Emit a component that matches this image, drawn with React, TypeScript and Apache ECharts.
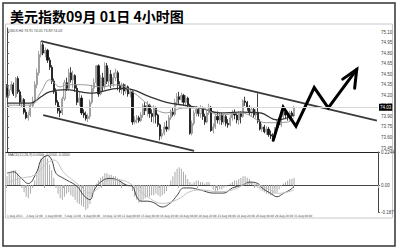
import { useEffect, useRef } from 'react';
import * as echarts from 'echarts';

// 4-hour USD index candles: [open, close, low, high]
const candles: number[][] = [
  [74.30, 74.20, 74.17, 74.36], [74.20, 74.28, 74.16, 74.33], [74.28, 74.35, 74.25, 74.40], [74.35, 74.22, 74.19, 74.38],
  [74.18, 74.44, 74.16, 74.46], [74.44, 74.25, 74.22, 74.47], [74.25, 74.10, 74.05, 74.28], [74.10, 74.14, 74.03, 74.20],
  [74.14, 73.96, 73.93, 74.16], [73.96, 73.88, 73.86, 74.00], [73.88, 73.92, 73.84, 73.97], [73.92, 74.05, 73.89, 74.08],
  [74.05, 74.12, 74.02, 74.18], [74.12, 74.35, 74.10, 74.40], [74.35, 74.52, 74.30, 74.58], [74.52, 74.78, 74.48, 74.83],
  [74.78, 74.92, 74.74, 74.97], [74.92, 74.80, 74.77, 74.95], [74.80, 74.84, 74.74, 74.88], [74.84, 74.70, 74.66, 74.86],
  [74.70, 74.60, 74.56, 74.74], [74.60, 74.40, 74.36, 74.63], [74.40, 74.25, 74.22, 74.44], [74.25, 74.10, 74.06, 74.30],
  [74.10, 73.98, 73.94, 74.13], [73.98, 73.95, 73.89, 74.05], [73.95, 74.15, 73.92, 74.18], [74.15, 74.38, 74.12, 74.42],
  [74.38, 74.30, 74.26, 74.45], [74.30, 74.52, 74.27, 74.58], [74.52, 74.42, 74.38, 74.60], [74.42, 74.48, 74.30, 74.55],
  [74.48, 74.30, 74.25, 74.50], [74.30, 74.10, 74.06, 74.35], [74.10, 74.16, 74.05, 74.25], [74.16, 73.95, 73.92, 74.20],
  [73.95, 73.92, 73.88, 74.00], [73.92, 73.87, 73.84, 73.97], [73.87, 73.90, 73.82, 73.94], [73.90, 74.10, 73.86, 74.14],
  [74.10, 74.30, 74.07, 74.35], [74.30, 74.38, 74.25, 74.44], [74.38, 74.62, 74.34, 74.63], [74.62, 74.22, 74.18, 74.64],
  [74.22, 74.45, 74.20, 74.49], [74.45, 74.32, 74.25, 74.52], [74.32, 74.62, 74.28, 74.67], [74.62, 74.40, 74.36, 74.66],
  [74.40, 74.50, 74.33, 74.59], [74.50, 74.36, 74.30, 74.56], [74.36, 74.45, 74.32, 74.52], [74.45, 74.52, 74.40, 74.58],
  [74.52, 74.34, 74.27, 74.55], [74.34, 74.28, 74.24, 74.40], [74.28, 74.35, 74.22, 74.38], [74.35, 74.26, 74.20, 74.37],
  [74.26, 74.32, 74.22, 74.36], [74.32, 74.22, 74.18, 74.34], [74.22, 74.25, 74.17, 74.30], [74.25, 73.82, 73.78, 74.27],
  [73.82, 73.85, 73.79, 73.90], [73.85, 73.88, 73.80, 73.92], [73.88, 73.84, 73.81, 73.91], [73.84, 73.92, 73.82, 73.96],
  [73.92, 74.05, 73.88, 74.08], [74.05, 73.98, 73.92, 74.10], [73.98, 74.06, 73.90, 74.12], [74.06, 73.94, 73.88, 74.08],
  [73.94, 73.90, 73.82, 74.00], [73.90, 74.02, 73.80, 74.06], [74.02, 73.92, 73.80, 74.04], [73.92, 73.78, 73.75, 73.94],
  [73.78, 73.62, 73.56, 73.80], [73.62, 73.66, 73.58, 73.72], [73.66, 73.75, 73.63, 73.82], [73.75, 73.72, 73.68, 73.84],
  [73.72, 73.88, 73.70, 73.92], [73.88, 73.96, 73.85, 74.00], [73.96, 73.93, 73.90, 74.02], [73.93, 74.10, 73.90, 74.15],
  [74.10, 74.18, 74.05, 74.23], [74.18, 74.14, 74.08, 74.25], [74.14, 74.20, 74.10, 74.24], [74.20, 74.10, 74.05, 74.22],
  [74.10, 74.16, 74.04, 74.20], [74.16, 74.06, 74.02, 74.18], [74.06, 73.66, 73.64, 74.08], [73.66, 73.80, 73.63, 73.84],
  [73.80, 73.95, 73.77, 73.99], [73.95, 74.00, 73.90, 74.05], [74.00, 73.94, 73.90, 74.03], [73.94, 74.02, 73.88, 74.06],
  [74.02, 73.90, 73.85, 74.04], [73.90, 73.82, 73.78, 73.94], [73.82, 73.95, 73.80, 73.98], [73.95, 74.03, 73.92, 74.08],
  [74.03, 73.70, 73.68, 74.05], [73.70, 73.75, 73.66, 73.80], [73.75, 73.90, 73.72, 73.94], [73.90, 73.85, 73.80, 73.97],
  [73.85, 73.92, 73.78, 73.96], [73.92, 73.82, 73.78, 73.95], [73.82, 73.90, 73.79, 73.93], [73.90, 73.80, 73.76, 73.92],
  [73.80, 73.78, 73.74, 73.86], [73.78, 73.88, 73.76, 73.92], [73.88, 73.96, 73.84, 73.99], [73.96, 73.92, 73.86, 74.00],
  [73.92, 73.85, 73.80, 73.95], [73.85, 73.94, 73.78, 73.98], [73.94, 73.90, 73.80, 73.97], [73.90, 74.12, 73.88, 74.14],
  [74.12, 74.10, 74.05, 74.18], [74.10, 74.03, 73.98, 74.12], [74.03, 73.95, 73.92, 74.06], [73.95, 74.00, 73.90, 74.04],
  [74.00, 73.92, 73.88, 74.02], [73.92, 73.96, 73.88, 74.00], [73.96, 73.83, 73.80, 74.23], [73.83, 73.72, 73.70, 73.86],
  [73.72, 73.75, 73.68, 73.80], [73.75, 73.68, 73.66, 73.78], [73.68, 73.72, 73.64, 73.76], [73.72, 73.64, 73.61, 73.75],
  [73.64, 73.62, 73.58, 73.70], [73.62, 73.60, 73.56, 73.66], [73.60, 73.72, 73.57, 73.75], [73.72, 73.82, 73.68, 73.86],
  [73.82, 73.78, 73.74, 73.88], [73.78, 73.90, 73.75, 73.93], [73.90, 73.96, 73.86, 74.00], [73.96, 73.92, 73.86, 73.99],
  [73.92, 73.88, 73.84, 73.96], [73.88, 73.95, 73.83, 73.98], [73.95, 73.91, 73.86, 73.98], [73.91, 74.03, 73.89, 74.05],
];

// MACD histogram, one bar per candle
const macdHistogram = [
  0.06, 0.08, 0.09, 0.10, 0.10, 0.08, 0.05,
  -0.02, -0.05, -0.08, -0.09, -0.06,
  -0.02, 0.03, 0.08, 0.13, 0.18, 0.21, 0.20, 0.18, 0.14, 0.10, 0.05,
  -0.02, -0.06, -0.09, -0.10, -0.08, -0.06, -0.05, -0.07, -0.08, -0.10, -0.12, -0.13, -0.14, -0.15,
  -0.17, -0.16, -0.13, -0.08, -0.03, 0.01,
  0.03, 0.05, 0.06, 0.08, 0.08, 0.07, 0.07, 0.06, 0.06, 0.05, 0.04,
  0.02, 0.01, 0.00, -0.01, -0.01, -0.04,
  -0.08, -0.10, -0.12, -0.11, -0.10,
  -0.09, -0.08, -0.08, -0.07, -0.07, -0.06, -0.07, -0.08, -0.07, -0.06, -0.04,
  -0.01, 0.03, 0.06, 0.09, 0.11, 0.12, 0.11, 0.09, 0.07,
  0.04, 0.02, 0.01, 0.02, 0.03, 0.03, 0.02,
  0.02, 0.01, 0.02, 0.02, -0.01, -0.03,
  -0.04, -0.04, -0.03, -0.03, -0.02, -0.01, 0.00,
  0.01, 0.02, 0.03, 0.03, 0.04, 0.05, 0.06, 0.06, 0.05, 0.04, 0.02,
  0.00, -0.01, -0.02, -0.03, -0.04, -0.05, -0.06, -0.06, -0.07, -0.07, -0.06, -0.05, -0.03, -0.01,
  0.01, 0.02, 0.03, 0.04, 0.04, 0.05,
];

// Moving averages as [candle index, value]
const maSlow = [
  [0, 74.09], [11, 74.09], [16, 74.18], [20, 74.25], [28, 74.28], [39, 74.23], [44, 74.25], [52, 74.30],
  [59, 74.28], [67, 74.18], [75, 74.10], [83, 74.06], [91, 74.02], [100, 73.95], [110, 73.96], [119, 73.95],
  [127, 73.85], [135, 73.92],
];
const maFast = [
  [0, 74.06], [11, 74.06], [16, 74.25], [20, 74.42], [25, 74.32], [28, 74.35], [36, 74.35], [44, 74.32],
  [52, 74.35], [59, 74.25], [67, 74.06], [75, 73.95], [83, 74.02], [91, 74.02], [100, 73.92], [110, 73.95],
  [122, 73.81], [132, 73.82], [135, 73.88],
];

// MACD main and signal lines as [candle index, value]
const macdMain = [
  [0, 0.08], [3, 0.09], [6, 0.056], [10, 0.01], [14, 0.09], [16, 0.17], [19, 0.20], [21, 0.17], [23, 0.08],
  [26, 0.05], [28, 0.034], [33, -0.01], [36, -0.07], [39, -0.10], [41, -0.034], [44, 0.02], [48, 0.045],
  [52, 0.034], [56, 0.0], [59, -0.01], [61, -0.08], [63, -0.11], [66, -0.11], [69, -0.12], [73, -0.15],
  [77, -0.12], [80, -0.07], [83, -0.02], [86, -0.02], [91, -0.034], [97, -0.055], [102, -0.055], [106, -0.02],
  [111, 0.0], [114, 0.02], [118, 0.01], [120, -0.02], [124, -0.057], [127, -0.08], [130, -0.057], [133, -0.034],
  [135, -0.01],
];
const macdSignal = [
  [0, 0.015], [6, 0.045], [13, 0.068], [19, 0.15], [22, 0.17], [27, 0.08], [33, 0.01], [39, -0.055],
  [44, -0.01], [48, 0.034], [53, 0.034], [59, 0.0], [66, -0.08], [73, -0.125], [80, -0.10], [86, -0.045],
  [91, -0.034], [99, -0.045], [106, -0.034], [114, 0.01], [122, -0.02], [128, -0.057], [135, -0.034],
];

// Trend channel and projected path, [slot, price]
const upperChannel = [[16, 74.97], [174, 73.84]];
const lowerChannel = [[17, 73.92], [88, 73.41]];
const projectedPath = [[125.2, 73.56], [129.9, 74.03], [135.9, 73.76], [144.5, 74.31], [151.1, 74.02], [164.5, 74.57]];
const projectedHead = [[157.9, 74.43], [164.5, 74.57], [163.5, 74.3]];

// Time axis labels, one every 9 candles
const tickLabels = [
  '1 Aug 2011', '2 Aug 12:00', '4 Aug 00:00', '5 Aug 12:00', '9 Aug 00:00', '10 Aug 12:00', '12 Aug 00:00',
  '15 Aug 08:00', '16 Aug 20:00', '18 Aug 08:00', '19 Aug 20:00', '23 Aug 08:00', '24 Aug 20:00',
  '26 Aug 08:00', '29 Aug 20:00', '31 Aug 08:00',
];
const tickStep = 9;
const priceTicks = [73.45, 73.6, 73.75, 73.9, 74.05, 74.2, 74.35, 74.5, 74.65, 74.8, 74.95, 75.1];
const macdTicks = [-0.187, 0, 0.2244];
const slotCount = 175;

export default function App() {
  const ref = useRef<HTMLDivElement>(null);

  useEffect(() => {
    const chart = echarts.init(ref.current!, null, { renderer: 'svg' });
    const slots = Array.from({ length: slotCount }, (_, i) => String(i));
    const labelAt = (i: number) => (i % tickStep === 0 ? tickLabels[i / tickStep] : undefined);
    const last = candles[candles.length - 1];
    const lastClose = last[1];
    const fontFamily = 'Arial, "Liberation Sans", sans-serif';
    const narrowFont = '"Liberation Sans Narrow", "DejaVu Sans Condensed", Arial, sans-serif';

    chart.setOption({
      animation: false,
      backgroundColor: '#fff',
      grid: [
        { left: 6, top: 28, width: 372, height: 124 },
        { left: 6, top: 152, width: 372, height: 60.5 },
      ],
      xAxis: [
        {
          type: 'category', gridIndex: 0, data: slots, boundaryGap: true,
          axisLine: { show: true, lineStyle: { color: '#222', width: 1.2 } },
          axisTick: { show: false }, axisLabel: { show: false }, splitLine: { show: false },
        },
        {
          type: 'category', gridIndex: 1, data: slots, boundaryGap: true,
          axisLine: { show: true, lineStyle: { color: '#444', width: 1 } },
          axisTick: { show: true, length: 3, interval: (i: number) => labelAt(i) !== undefined, lineStyle: { color: '#aaa' } },
          axisLabel: {
            show: true, interval: (i: number) => labelAt(i) !== undefined,
            formatter: (_v: string, i: number) => labelAt(i) ?? '',
            fontSize: 3, color: '#444', align: 'left', margin: 2, fontFamily: narrowFont,
          },
          splitLine: { show: false },
        },
        { type: 'value', gridIndex: 0, min: -0.5, max: slotCount - 0.5, show: false },
      ],
      yAxis: [
        {
          type: 'value', gridIndex: 0, position: 'right', min: 73.394, max: 75.157, scale: true,
          axisLine: { show: true, lineStyle: { color: '#444', width: 1 } },
          axisTick: { show: true, length: 2, customValues: priceTicks, lineStyle: { color: '#666' } },
          axisLabel: { show: true, customValues: priceTicks, formatter: (v: number) => v.toFixed(2), fontSize: 4.5, color: '#444', margin: 3, fontFamily },
          splitLine: { show: false },
        },
        {
          type: 'value', gridIndex: 1, position: 'right', min: -0.187, max: 0.2244,
          axisLine: { show: true, lineStyle: { color: '#444', width: 1 } },
          axisTick: { show: true, length: 2, customValues: macdTicks, lineStyle: { color: '#666' } },
          axisLabel: { show: true, customValues: macdTicks, formatter: (v: number) => (v === 0 ? '0.00' : String(v)), fontSize: 4.5, color: '#444', margin: 3, fontFamily },
          splitLine: { show: false },
        },
      ],
      series: [
        {
          type: 'candlestick', xAxisIndex: 0, yAxisIndex: 0, data: candles, barWidth: 1.6,
          itemStyle: { color: '#e6e6e6', color0: '#111', borderColor: '#8a8a8a', borderColor0: '#111', borderWidth: 0.8 },
          markLine: {
            silent: true, symbol: ['none', 'none'], z: 10,
            lineStyle: { color: '#d8d8d8', type: 'solid', width: 1 },
            label: {
              show: true, position: 'end', distance: 1, formatter: lastClose.toFixed(2),
              backgroundColor: '#000', color: '#fff', fontSize: 4.5, padding: [1, 1], fontFamily,
            },
            data: [{ yAxis: lastClose }],
          },
        },
        { type: 'line', xAxisIndex: 0, yAxisIndex: 0, data: maSlow, smooth: 0.4, showSymbol: false, lineStyle: { color: '#333', width: 1.3 } },
        { type: 'line', xAxisIndex: 0, yAxisIndex: 0, data: maFast, smooth: 0.4, showSymbol: false, lineStyle: { color: '#9a9a9a', width: 1 } },
        { type: 'line', xAxisIndex: 2, yAxisIndex: 0, data: upperChannel, showSymbol: false, lineStyle: { color: '#3a3a3a', width: 1.8 } },
        { type: 'line', xAxisIndex: 2, yAxisIndex: 0, data: lowerChannel, showSymbol: false, lineStyle: { color: '#3a3a3a', width: 1.8 } },
        { type: 'line', xAxisIndex: 2, yAxisIndex: 0, data: projectedPath, showSymbol: false, z: 5, lineStyle: { color: '#000', width: 3, join: 'miter', cap: 'round' } },
        { type: 'line', xAxisIndex: 2, yAxisIndex: 0, data: projectedHead, showSymbol: false, z: 5, lineStyle: { color: '#000', width: 3, join: 'miter', cap: 'round' } },
        { type: 'bar', xAxisIndex: 1, yAxisIndex: 1, data: macdHistogram, barWidth: 1, itemStyle: { color: '#ababab' } },
        { type: 'line', xAxisIndex: 1, yAxisIndex: 1, data: macdMain, smooth: 0.4, showSymbol: false, lineStyle: { color: '#444', width: 1 } },
        { type: 'line', xAxisIndex: 1, yAxisIndex: 1, data: macdSignal, smooth: 0.4, showSymbol: false, lineStyle: { color: '#c4c4c4', width: 1 } },
      ],
      graphic: [
        { type: 'rect', shape: { x: 3, y: 3, width: 392, height: 243 }, style: { fill: 'none', stroke: '#333', lineWidth: 1.5 }, silent: true, z: 0 },
        { type: 'rect', shape: { x: 5.5, y: 24, width: 387, height: 194 }, style: { fill: 'none', stroke: '#c8c8c8', lineWidth: 1 }, silent: true, z: 0 },
        {
          type: 'text', x: 10, y: 9, silent: true,
          style: { text: '美元指数09月 01日 4小时图', fill: '#000', fontSize: 14, fontWeight: 'bold', fontFamily: '"Noto Sans CJK SC", sans-serif' },
        },
        {
          type: 'text', x: 8, y: 29, silent: true,
          style: { text: `USDX,H4 ${last[0].toFixed(2)} ${last[3].toFixed(2)} ${last[2].toFixed(2)} ${last[1].toFixed(2)}`, fill: '#444', fontSize: 3.5, fontFamily },
        },
        {
          type: 'text', x: 8, y: 152.5, silent: true,
          style: { text: 'MACD(12,26,9) 0.0500 -0.0100 -0.0340', fill: '#444', fontSize: 3.5, fontFamily },
        },
      ],
    });

    return () => chart.dispose();
  }, []);

  return <div ref={ref} style={{ position: 'fixed', left: 0, top: 0, width: 400, height: 251, background: '#fff' }} />;
}
